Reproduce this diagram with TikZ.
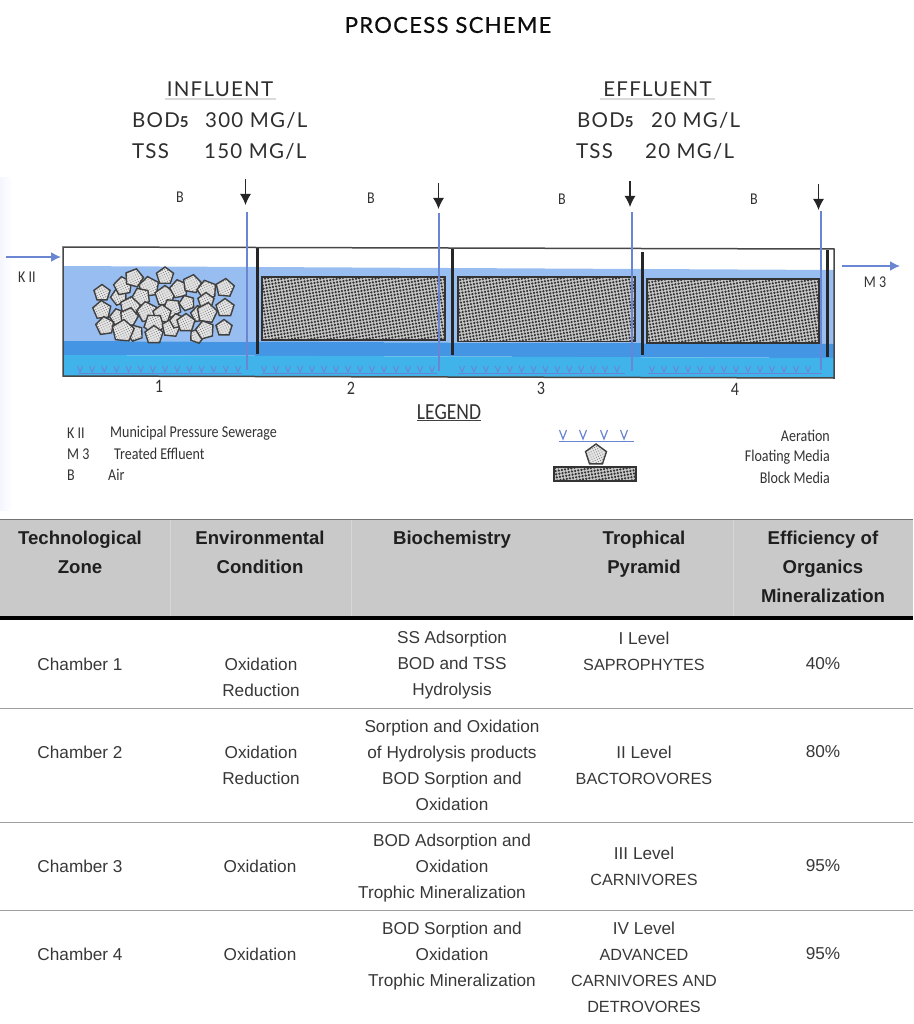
\documentclass[tikz,border=0pt]{standalone}
\usepackage{fontspec}
\setmainfont{Liberation Sans}
\newfontfamily\headfont[LetterSpace=6]{Lato}
\newfontfamily\titlefont[LetterSpace=6,FakeBold=0.5]{Lato}
\newfontfamily\handfont[FakeStretch=0.85]{Carlito}
\usetikzlibrary{arrows.meta,patterns.meta,shapes.geometric}
\definecolor{waterlight}{HTML}{98BEF1}
\definecolor{waterdark}{HTML}{4496E4}
\definecolor{waterbase}{HTML}{40B3EA}
\definecolor{pipeblue}{HTML}{6A86D2}
\definecolor{bandgray}{HTML}{C9C9C9}
\newcommand{\capcell}[1]{{\fontsize{16.2}{26}\selectfont #1}}
\tikzset{
  blockmedia/.style={draw=black!80, line width=1.1pt, preaction={fill=black!22},
    pattern={Dots[distance=3.2pt, radius=1.25pt, angle=10]}, pattern color=black!80},
  floatmedia/.style={regular polygon, regular polygon sides=5, inner sep=0pt, draw=black!75,
    line width=1.4pt, preaction={fill=black!10},
    pattern={Dots[distance=2.4pt, radius=0.6pt, angle=25]}, pattern color=black!50},
  airarrow/.style={-{Latex[length=11pt,width=11pt]}, line width=1.2pt, black!85},
  flowarrow/.style={-{Latex[length=10pt,width=10pt]}, line width=1.6pt, pipeblue},
  headtext/.style={font=\headfont\fontsize{20.5}{24}\selectfont, text=black!82, inner sep=0pt},
  handtext/.style={font=\handfont\fontsize{16.5}{18}\selectfont, text=black!80, inner sep=0pt},
  numtext/.style={font=\handfont\fontsize{19}{20}\selectfont, text=black!80, inner sep=0pt},
  headcell/.style={font=\bfseries\fontsize{18.6}{29}\selectfont, align=center, text=black!88, inner sep=0pt},
  bodycell/.style={font=\fontsize{17.2}{26}\selectfont, align=center, text=black!78, inner sep=0pt},
}
\begin{document}
\begin{tikzpicture}[x=1pt, y=-1pt]
    \useasboundingbox (0,0) rectangle (913,1024);
    \shade[left color=blue!4, right color=white] (0,178) rectangle (12,510);

    \node[font=\titlefont\fontsize{22}{24}\selectfont, text=black!95, inner sep=0pt] (title) at (448,25) {PROCESS SCHEME};

    \node[headtext] (influent) at (220,89) {INFLUENT};
    \node[headtext] (effluent) at (657.5,89) {EFFLUENT};
    \fill[black!14] (165,98.5) rectangle (276,100);
    \fill[black!14] (600,98.5) rectangle (715,100);
    \node[headtext, anchor=west] (inbod) at (132,120.5) {BOD{\bfseries\fontsize{15}{18}\selectfont 5}};
    \node[headtext, anchor=west] (inbodval) at (205,120.5) {300 MG/L};
    \node[headtext, anchor=west] (intss) at (132,151.5) {TSS};
    \node[headtext, anchor=west] (intssval) at (204,151.5) {150 MG/L};
    \node[headtext, anchor=west] (outbod) at (577,120.5) {BOD{\bfseries\fontsize{15}{18}\selectfont 5}};
    \node[headtext, anchor=west] (outbodval) at (651,120.5) {20 MG/L};
    \node[headtext, anchor=west] (outtss) at (576,151.5) {TSS};
    \node[headtext, anchor=west] (outtssval) at (645,151.5) {20 MG/L};

    % tank
    \fill[waterlight] (63,266) -- (834,270) -- (834,344) -- (63,341) -- cycle;
    \fill[waterdark]  (63,341) -- (834,344) -- (834,358) -- (63,355) -- cycle;
    \fill[waterbase]  (63,355) -- (834,358) -- (834,378) -- (63,376) -- cycle;

    \foreach \x/\y/\s/\a in {
        102/293/17/0, 119/297/17/20, 123/286/19/10, 134/278/19/-15, 149/287/21/8,
        165/276/18/0, 141/297/19/25, 165/296/21/0, 179/289/19/12, 192/284/19/-10,
        207/290/20/15, 225/288/19/-5, 206/301/17/0, 187/303/16/20, 172/308/19/30,
        130/307/21/-8, 102/310/19/5, 118/317/17/15, 199/314/17/10, 207/313/21/-8,
        225/308/19/0, 129/317/19/-12, 147/312/21/10, 162/314/19/0, 105/326/19/8,
        135/333/17/20, 123/331/23/-5, 154/324/21/35, 154/335/19/0, 171/328/19/-6,
        177/321/15/12, 186/323/19/0, 197/336/15/-20, 205/330/19/15, 224/328/17/0}
        \node[floatmedia, minimum size=\s pt, rotate=\a] at (\x,\y) {};

    \draw[blockmedia] (262,277) rectangle (445,340);
    \draw[blockmedia] (458,277) rectangle (635,341.5);
    \draw[blockmedia] (647,279) rectangle (819,343);

    \foreach \x/\a/\b in {257/248/354, 452/249/355, 642/252/355, 827/250/357}
        \draw[line width=3pt, black!85] (\x,\a) -- (\x,\b);

    % aeration
    \foreach \a/\b/\n/\lfrom/\lto in {80/238/14/78/242, 264/432/15/262/437, 462/617/14/458/625, 652/808/14/648/822} {
        \draw[pipeblue, line width=0.8pt] (\lfrom,373) -- (\lto,373);
        \foreach \i in {1,...,\n} {
            \pgfmathsetmacro{\vx}{\a+(\i-1)*(\b-\a)/(\n-1)}
            \draw[pipeblue, line width=0.9pt] (\vx-2.6,366) -- (\vx,372) -- (\vx+2.6,366);
        }
    }

    \draw[black!72, line width=1.5pt] (63,247) -- (834,249) -- (834,378) -- (63,376) -- cycle;

    % air lines
    \foreach \n/\ax/\ay/\by/\px/\ptop/\pbot/\lx/\ly in {
        1/245.5/179/205/246.5/212/370/180/197,
        2/438.5/183/209/439/213/371/371/198,
        3/630/181/207/632/212/371/562/199,
        4/818.5/184/210/821/211/370/754/199} {
        \node[handtext] (air\n) at (\lx,\ly) {B};
        \coordinate (airfrom\n) at (\ax,\ay);
        \coordinate (airto\n) at (\ax,\by);
        \coordinate (pipetop\n) at (\px,\ptop);
        \coordinate (pipeend\n) at (\px,\pbot);
        \draw[airarrow] (airfrom\n) -- (airto\n);
        \draw[pipeblue, line width=2pt] (pipetop\n) -- (pipeend\n);
    }

    \coordinate (inletfrom) at (6,257);
    \coordinate (inletto) at (61,257);
    \coordinate (outletfrom) at (842,266);
    \coordinate (outletto) at (900,266);
    \draw[flowarrow] (inletfrom) -- (inletto);
    \draw[flowarrow] (outletfrom) -- (outletto);
    \node[handtext] (inletlabel) at (27,277) {K II};
    \node[handtext] (outletlabel) at (875,282) {M 3};

    \node[numtext] (zonenum1) at (159,386) {1};
    \node[numtext] (zonenum2) at (351,388) {2};
    \node[numtext] (zonenum3) at (541,388) {3};
    \node[numtext] (zonenum4) at (735,389) {4};

    % legend
    \node[handtext, font=\handfont\fontsize{23}{24}\selectfont] (legend) at (449,412) {LEGEND};
    \draw[black!75, line width=1.2pt] (417,420.5) -- (481,420.5);
    \node[handtext, anchor=west] (keyk) at (67,433) {K II};
    \node[handtext, anchor=west] (keym) at (67,454) {M 3};
    \node[handtext, anchor=west] (keyb) at (67,475) {B};
    \node[handtext, anchor=west] (keyktext) at (110,433) {Municipal Pressure Sewerage};
    \node[handtext, anchor=west] (keymtext) at (114,454) {Treated Effluent};
    \node[handtext, anchor=west] (keybtext) at (108,475) {Air};
    \foreach \vx in {563,583,604,624}
        \draw[pipeblue, line width=1.2pt] (\vx-3.5,430) -- (\vx,439) -- (\vx+3.5,430);
    \draw[pipeblue, line width=1.4pt] (559,441.5) -- (634,441.5);
    \node[floatmedia, minimum size=22pt] (keyfloat) at (596,455) {};
    \draw[blockmedia] (554,467) rectangle (636,481);
    \node[handtext, anchor=east] (keyaer) at (830,436) {Aeration};
    \node[handtext, anchor=east] (keyflo) at (830,457) {Floating Media};
    \node[handtext, anchor=east] (keyblo) at (830,478) {Block Media};

    % table
    \fill[bandgray] (0,520) rectangle (913,616);
    \draw[black!55, line width=1pt] (0,519.5) -- (913,519.5);
    \foreach \x in {170,351,733}
        \draw[black!16, line width=0.6pt] (\x,520) -- (\x,616);
    \fill[black] (0,616) rectangle (913,620);
    \foreach \y in {708,822,910}
        \draw[black!38, line width=1pt] (0,\y) -- (913,\y);

    \node[headcell] (headzone) at (80,552.5) {Technological\\Zone};
    \node[headcell] (headcond) at (260,552.5) {Environmental\\Condition};
    \node[headcell] (headbio) at (452,539.5) {Biochemistry};
    \node[headcell] (headpyr) at (644,554) {Trophical\\Pyramid};
    \node[headcell] (headeff) at (823,567) {Efficiency of\\Organics\\Mineralization};

    \node[bodycell] (zone1) at (80,664) {Chamber 1};
    \node[bodycell] (cond1) at (261,677) {Oxidation\\Reduction};
    \node[bodycell] (bio1) at (452,665) {SS Adsorption\\BOD and TSS\\Hydrolysis};
    \node[bodycell] (pyr1) at (644,651) {I Level\\\capcell{SAPROPHYTES}};
    \node[bodycell] (eff1) at (823,664) {40\%};

    \node[bodycell] (zone2) at (80,752) {Chamber 2};
    \node[bodycell] (cond2) at (261,765) {Oxidation\\Reduction};
    \node[bodycell] (bio2) at (452,765) {Sorption and Oxidation\\of Hydrolysis products\\BOD Sorption and\\Oxidation};
    \node[bodycell] (pyr2) at (644,765) {II Level\\\capcell{BACTOROVORES}};
    \node[bodycell] (eff2) at (823,752) {80\%};

    \node[bodycell] (zone3) at (80,866) {Chamber 3};
    \node[bodycell] (cond3) at (260,866) {Oxidation};
    \node[bodycell] (bio3) at (452,868) {BOD Adsorption and\\Oxidation\\Trophic Mineralization\hspace*{20pt}};
    \node[bodycell] (pyr3) at (644,866) {III Level\\\capcell{CARNIVORES}};
    \node[bodycell] (eff3) at (823,866) {95\%};

    \node[bodycell] (zone4) at (80,954) {Chamber 4};
    \node[bodycell] (cond4) at (260,954) {Oxidation};
    \node[bodycell] (bio4) at (452,956) {BOD Sorption and\\Oxidation\\Trophic Mineralization};
    \node[bodycell] (pyr4) at (644,967) {IV Level\\\capcell{ADVANCED}\\\capcell{CARNIVORES AND}\\\capcell{DETROVORES}};
    \node[bodycell] (eff4) at (823,954) {95\%};
\end{tikzpicture}
\end{document}
